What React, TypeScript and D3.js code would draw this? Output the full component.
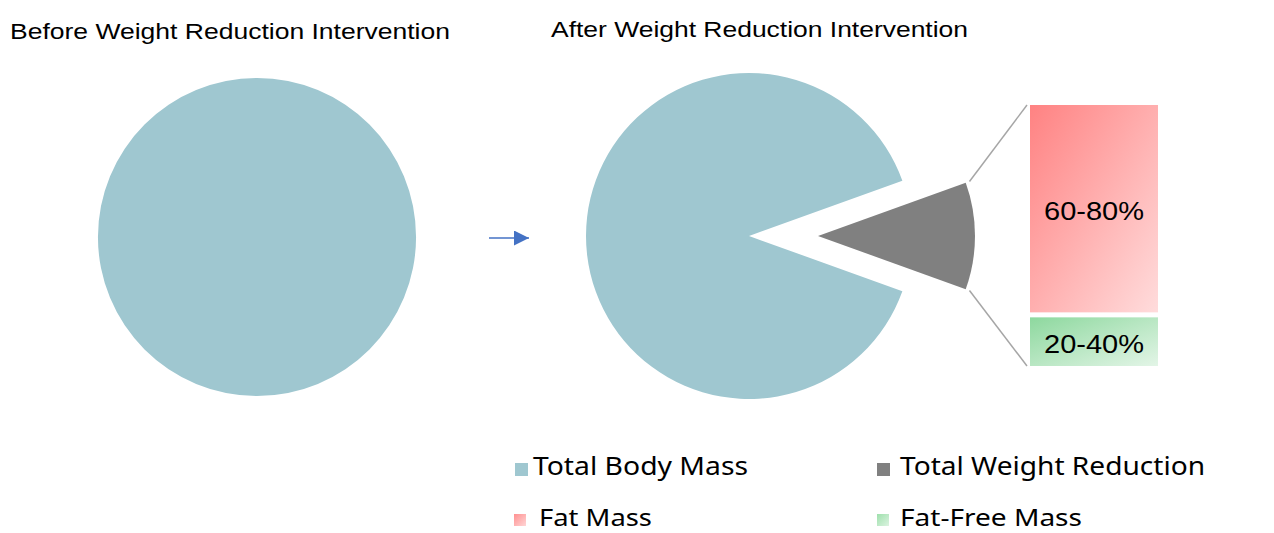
import React from "react";
import * as d3 from "d3";

const pieCategories = ["Total Body Mass", "Total Weight Reduction"];
const afterValues = [89, 11];
const beforeValues = [100];
const barCategories = ["Fat Mass", "Fat-Free Mass"];
const barValues = [81, 19];
const barLabels = ["60-80%", "20-40%"];
const titles = ["Before Weight Reduction Intervention", "After Weight Reduction Intervention"];
const legendItems = ["Total Body Mass", "Total Weight Reduction", "Fat Mass", "Fat-Free Mass"];

const W = 1274;
const H = 533;
const BLUE = "#9fc7d0";
const GRAY = "#808080";
const ARIAL = "Liberation Sans, Arial, sans-serif";

export default function App() {
  const before = d3.pie<number>().sort(null)(beforeValues);
  const half = (afterValues[1] / d3.sum(afterValues)) * Math.PI;
  const start = Math.PI / 2 + half;
  const after = d3
    .pie<number>()
    .sort(null)
    .startAngle(start)
    .endAngle(start + 2 * Math.PI)(afterValues);

  const arcBefore = d3.arc<any>().innerRadius(0).outerRadius(159);
  const arcAfter = d3.arc<any>().innerRadius(0).outerRadius(163);
  const sliceR = 157;
  const arcExpl = d3.arc<any>().innerRadius(0).outerRadius(sliceR);

  const cxB = 257, cyB = 237;
  const cxA = 749, cyA = 236;
  const explode = 69;
  const gx = cxA + explode, gy = cyA;

  // bar
  const barX = 1030, barW = 128, barTop = 105, barBottom = 366, gap = 5;
  const y = d3.scaleLinear().domain([0, d3.sum(barValues)]).range([barTop, barBottom - gap]);
  let acc = 0;
  const segs = barValues.map((v, i) => {
    const y0 = y(acc) + (i > 0 ? gap : 0);
    const y1 = y(acc + v) + (i > 0 ? gap : 0);
    acc += v;
    return { y0, y1, label: barLabels[i], cat: barCategories[i] };
  });

  const pt = (a: number, r: number) => [gx + r * Math.sin(a), gy - r * Math.cos(a)];
  const pA = pt(after[1].startAngle, sliceR + 4);
  const pB = pt(after[1].endAngle, sliceR + 4);
  const topPt = pA[1] < pB[1] ? pA : pB;
  const botPt = pA[1] < pB[1] ? pB : pA;

  const legendPos = [
    { mx: 515, my: 463, mw: 13, mh: 13, tx: 533, ty: 475, len: 215, fs: 25 },
    { mx: 877, my: 463, mw: 13, mh: 13, tx: 900, ty: 475, len: 305, fs: 25 },
    { mx: 514, my: 514, mw: 12, mh: 12, tx: 539, ty: 526, len: 113, fs: 24 },
    { mx: 877, my: 514, mw: 12, mh: 12, tx: 900, ty: 526, len: 182, fs: 24 },
  ];
  const legendFill = [BLUE, GRAY, "url(#lgRed)", "url(#lgGreen)"];

  return (
    <div style={{ position: "absolute", left: 0, top: 0 }}>
      <svg width={W} height={H} style={{ display: "block", background: "#fff" }}>
        <defs>
          <linearGradient id="gRed" x1="0" y1="0" x2="1" y2="1">
            <stop offset="0" stopColor="#ff8282" />
            <stop offset="1" stopColor="#ffdcdc" />
          </linearGradient>
          <linearGradient id="gGreen" x1="0" y1="0" x2="1" y2="1">
            <stop offset="0" stopColor="#8dd89e" />
            <stop offset="1" stopColor="#e3f5e7" />
          </linearGradient>
          <linearGradient id="lgRed" x1="0" y1="0" x2="1" y2="1">
            <stop offset="0" stopColor="#ff9090" />
            <stop offset="1" stopColor="#ffd6d6" />
          </linearGradient>
          <linearGradient id="lgGreen" x1="0" y1="0" x2="1" y2="1">
            <stop offset="0" stopColor="#9ee0ac" />
            <stop offset="1" stopColor="#dcf3e1" />
          </linearGradient>
          <marker id="arrowHead" viewBox="0 0 10 10" refX="10" refY="5" markerWidth="16" markerHeight="15" markerUnits="userSpaceOnUse" orient="auto">
            <path d="M0,0 L10,5 L0,10 Z" fill="#4472c4" />
          </marker>
        </defs>

        <text x={10} y={38.5} fontFamily={ARIAL} fontSize={22} fill="#000" textLength={440} lengthAdjust="spacingAndGlyphs">
          {titles[0]}
        </text>
        <text x={551} y={37} fontFamily={ARIAL} fontSize={22} fill="#000" textLength={417} lengthAdjust="spacingAndGlyphs">
          {titles[1]}
        </text>

        <g transform={`translate(${cxB},${cyB})`}>
          {before.map((d, i) => (
            <path key={i} d={arcBefore(d) as string} fill={BLUE} />
          ))}
        </g>

        <line x1={489} y1={238} x2={529} y2={238} stroke="#4472c4" strokeWidth={1.5} markerEnd="url(#arrowHead)" />

        <g transform={`translate(${cxA},${cyA})`}>
          <path d={arcAfter(after[0]) as string} fill={BLUE} />
        </g>
        <g transform={`translate(${gx},${gy})`}>
          <path d={arcExpl(after[1]) as string} fill={GRAY} />
        </g>

        <line x1={topPt[0]} y1={topPt[1]} x2={barX - 3} y2={barTop} stroke="#a6a6a6" strokeWidth={1.5} />
        <line x1={botPt[0]} y1={botPt[1]} x2={barX - 3} y2={barBottom} stroke="#a6a6a6" strokeWidth={1.5} />

        {segs.map((s, i) => (
          <g key={i}>
            <rect x={barX} y={s.y0} width={barW} height={s.y1 - s.y0} fill={i === 0 ? "url(#gRed)" : "url(#gGreen)"} />
            <text
              x={barX + barW / 2}
              y={(s.y0 + s.y1) / 2 + 2}
              textAnchor="middle"
              dominantBaseline="central"
              fontFamily={ARIAL}
              fontSize={26}
              fill="#000"
              textLength={100}
              lengthAdjust="spacingAndGlyphs"
            >
              {s.label}
            </text>
          </g>
        ))}

        {legendItems.map((t, i) => {
          const p = legendPos[i];
          return (
            <g key={t}>
              <rect x={p.mx} y={p.my} width={p.mw} height={p.mh} fill={legendFill[i]} />
              <text x={p.tx} y={p.ty} fontFamily="Noto Sans, sans-serif" fontSize={p.fs} fill="#000" textLength={p.len} lengthAdjust="spacingAndGlyphs">
                {t}
              </text>
            </g>
          );
        })}
      </svg>
    </div>
  );
}
